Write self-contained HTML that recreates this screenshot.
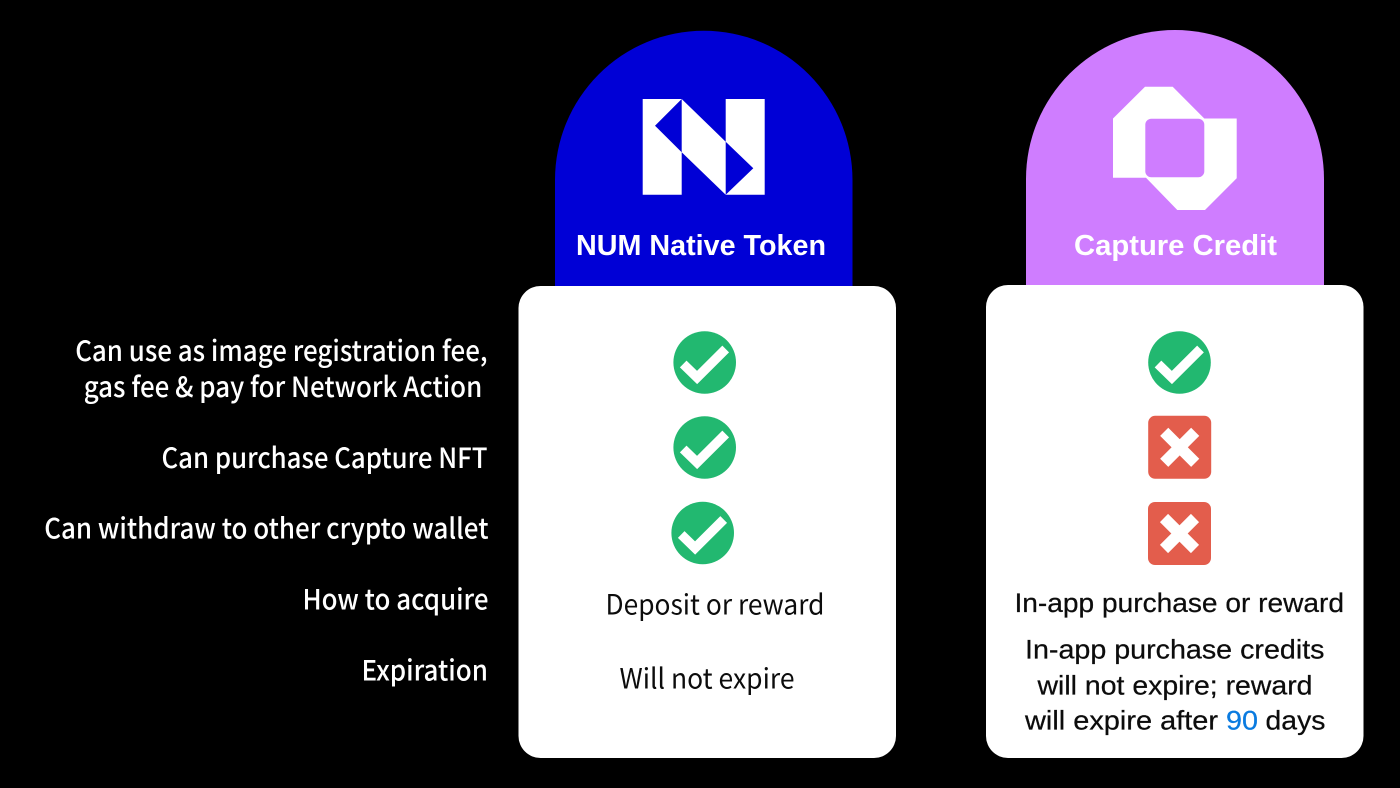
<!DOCTYPE html>
<html><head><meta charset="utf-8"><style>
html,body{margin:0;padding:0;background:#000;width:1400px;height:788px;overflow:hidden}
svg{display:block}
.n{font-family:"Noto Sans CJK JP","Liberation Sans",sans-serif;font-size:28px}
.lab{fill:#fff;font-weight:500}
.dark{fill:#0c0c0c;font-weight:400}
.s{font-family:"Liberation Sans",sans-serif;font-size:27px;fill:#0c0c0c;stroke:#0c0c0c;stroke-width:.25px}
.h{font-family:"Liberation Sans",sans-serif;font-size:29px;font-weight:700;fill:#fff}
</style></head><body>
<svg width="1400" height="788" viewBox="0 0 1400 788" xmlns="http://www.w3.org/2000/svg">
<defs>
<g id="chk"><circle r="31.3" fill="#22b870"/><path d="M-21.5 1.5L-7.6 15L21-13.5" fill="none" stroke="#fff" stroke-width="9.5"/></g>
<g id="x"><rect x="-31.5" y="-31.5" width="63" height="63" rx="7" fill="#e35d4c"/><path d="M-15.5-15.5L15.5 15.5M15.5-15.5L-15.5 15.5" stroke="#fff" stroke-width="11.5"/></g>
</defs>
<rect width="1400" height="788" fill="#000"/>
<path d="M555 287V180A148.5 149 0 0 1 852.5 180V287Z" fill="#0000d6"/>
<path d="M1026 287V179A149 149 0 0 1 1324 179V287Z" fill="#cf7dff"/>
<rect x="518.5" y="286" width="377.5" height="472" rx="22" fill="#fff"/>
<rect x="986" y="285" width="377.5" height="473" rx="22" fill="#fff"/>
<path d="M642.7 99H681.7L655 125.7L681.7 152.3V194.7H642.7ZM681.7 99L725.7 141.7V194.7L681.7 152.3ZM725.7 99H764.7V194.7H725.7L753.3 168.3L725.7 141.7Z" fill="#fff"/>
<path d="M1145 86.7H1172.7L1204.3 118.5H1236.7V178.3L1205 210H1177.3L1146 177.7H1113V118.5Z" fill="#fff"/>
<rect x="1145.3" y="118.7" width="59" height="58.6" rx="6" fill="#cf7dff"/>
<text class="h" x="576" y="255" textLength="250" lengthAdjust="spacingAndGlyphs">NUM Native Token</text>
<text class="h" x="1074" y="255" textLength="203" lengthAdjust="spacingAndGlyphs">Capture Credit</text>
<g class="n lab">
<text x="75.2" y="360.8" textLength="412.4" lengthAdjust="spacingAndGlyphs">Can use as image registration fee,</text>
<text x="83.7" y="396.8" textLength="398.6" lengthAdjust="spacingAndGlyphs">gas fee &amp; pay for Network Action</text>
<text x="161.5" y="467.8" textLength="326" lengthAdjust="spacingAndGlyphs">Can purchase Capture NFT</text>
<text x="44.2" y="538.5" textLength="444.3" lengthAdjust="spacingAndGlyphs">Can withdraw to other crypto wallet</text>
<text x="302.5" y="609.5" textLength="186" lengthAdjust="spacingAndGlyphs">How to acquire</text>
<text x="361.5" y="680.5" textLength="126.5" lengthAdjust="spacingAndGlyphs">Expiration</text>
</g>
<g class="n dark">
<text x="605.5" y="614.3" textLength="219" lengthAdjust="spacingAndGlyphs">Deposit or reward</text>
<text x="619.5" y="688.3" textLength="175" lengthAdjust="spacingAndGlyphs">Will not expire</text>
</g>
<use href="#chk" x="704.7" y="362.5"/>
<use href="#chk" x="704.7" y="447.5"/>
<use href="#chk" x="702.7" y="533"/>
<use href="#chk" x="1179.5" y="362.5"/>
<use href="#x" x="1179.7" y="447.3"/>
<use href="#x" x="1179.5" y="533.5"/>
<text class="s" x="1014.5" y="612" textLength="329.5" lengthAdjust="spacingAndGlyphs">In-app purchase or reward</text>
<text class="s" x="1025" y="658.7" textLength="299.5" lengthAdjust="spacingAndGlyphs">In-app purchase credits</text>
<text class="s" x="1037.5" y="694.3" textLength="275" lengthAdjust="spacingAndGlyphs">will not expire; reward</text>
<text class="s" x="1025" y="729.7" textLength="193" lengthAdjust="spacingAndGlyphs">will expire after</text>
<text class="s" x="1226" y="729.7" textLength="32" lengthAdjust="spacingAndGlyphs" style="fill:#0a7be0;stroke:#0a7be0">90</text>
<text class="s" x="1265.5" y="729.7" textLength="60" lengthAdjust="spacingAndGlyphs">days</text>
</svg>
</body></html>
